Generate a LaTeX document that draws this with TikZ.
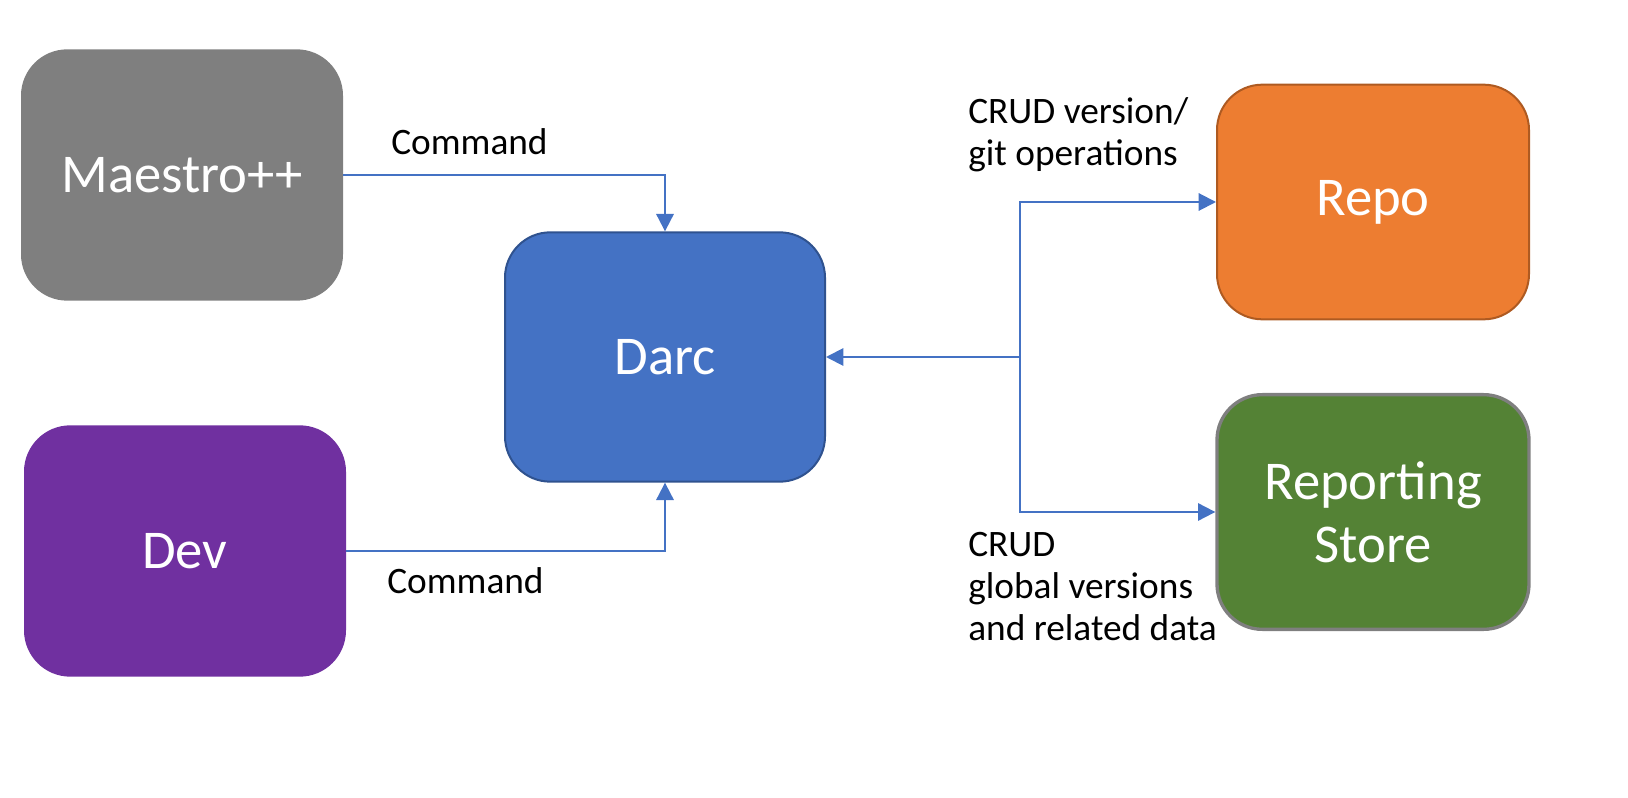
\documentclass[tikz,border=0pt]{standalone}
\usepackage{fontspec}
\setmainfont{Carlito}
\usetikzlibrary{arrows.meta}

\definecolor{boxgray}{RGB}{127,127,127}
\definecolor{boxpurple}{RGB}{112,48,160}
\definecolor{boxblue}{RGB}{68,114,196}
\definecolor{edgeblue}{RGB}{47,82,143}
\definecolor{boxorange}{RGB}{237,125,49}
\definecolor{edgeorange}{RGB}{174,90,33}
\definecolor{boxgreen}{RGB}{84,130,53}
\definecolor{linkblue}{RGB}{68,114,196}

\tikzset{
  block/.style={rounded corners=34pt, minimum width=240pt, minimum height=187pt,
    text=white, align=center, line width=1.5pt,
    font=\fontsize{41}{47}\selectfont},
  link/.style={color=linkblue, line width=1.5pt, -{Triangle[length=13pt,width=13pt]}},
  linklabel/.style={inner sep=0pt, anchor=north west, align=left,
    font=\fontsize{28}{31.5}\selectfont}
}

\begin{document}
\begin{tikzpicture}[x=0.75pt,y=0.75pt,yscale=-1,xscale=1]
		\useasboundingbox (0,0) rectangle (1628,798);
		
		%Shape: Rounded Rectangle
		\node [block, fill=boxgray, draw=boxgray] (maestro) at (182,175) {Maestro++};
		%Shape: Rounded Rectangle
		\node [block, fill=boxpurple, draw=boxpurple] (dev) at (185,551) {Dev};
		%Shape: Rounded Rectangle
		\node [block, fill=boxblue, draw=edgeblue] (darc) at (665,357) {Darc};
		%Shape: Rounded Rectangle
		\node [block, fill=boxorange, draw=edgeorange, minimum width=234pt, minimum height=176pt] (repo) at (1373,202) {Repo};
		%Shape: Rounded Rectangle
		\node [block, fill=boxgreen, draw=boxgray, line width=2.5pt, minimum width=234pt, minimum height=176pt] (store) at (1373,512) {Reporting\\Store};
		
		% Connection
		\coordinate (junc) at (1020,357);
		\draw [link] (maestro.east) -| (darc.north);
		\draw [link] (dev.east) -| (darc.south);
		\draw [link] (junc) -- (darc.east);
		\draw [link] (junc) |- (repo.west);
		\draw [link] (junc) |- (store.west);
		
		% Text Node
		\node [linklabel] (cmdtop) at (391,128) {Command};
		% Text Node
		\node [linklabel] (cmdbot) at (387,567) {Command};
		% Text Node
		\node [linklabel] (crudrepo) at (968,97) {CRUD version/\\git operations};
		% Text Node
		\node [linklabel] (crudstore) at (968,532) {CRUD\\global versions\\and related data};
	\end{tikzpicture}
\end{document}
